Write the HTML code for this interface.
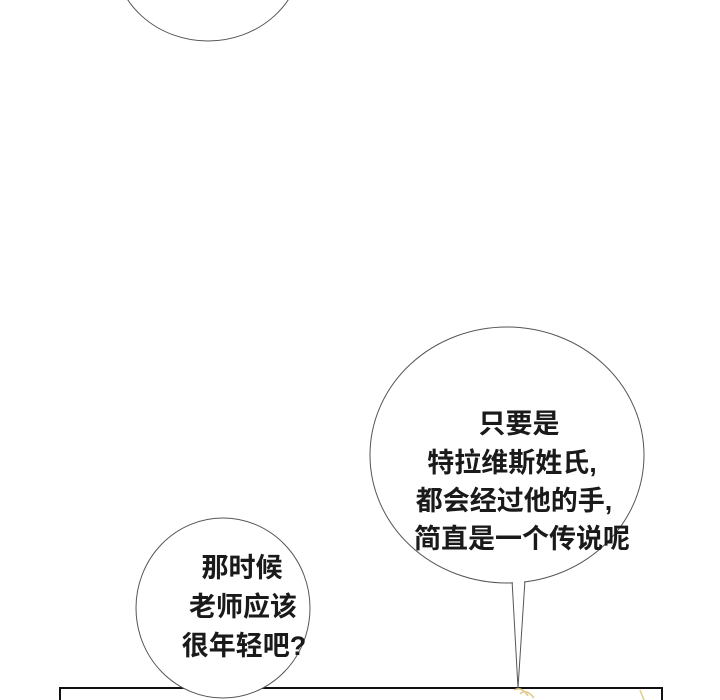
<!DOCTYPE html>
<html><head><meta charset="utf-8"><style>
html,body{margin:0;padding:0;background:#fff;width:720px;height:700px;overflow:hidden}
svg text{font-family:"Liberation Sans","Noto Sans CJK SC",sans-serif;font-size:27px;font-weight:700;fill:#1a1a1a}
</style></head><body>
<svg width="720" height="700" viewBox="0 0 720 700" xmlns="http://www.w3.org/2000/svg">
<rect width="720" height="700" fill="#fff"/>
<ellipse cx="208" cy="-45" rx="94" ry="86" fill="#fff" stroke="#555" stroke-width="1"/>
<rect x="60" y="688" width="602" height="20" fill="#fff" stroke="#111" stroke-width="2"/>
<path d="M514 690 q8 -4 14 6 M520 694 q6 -6 14 4 M640 690 l4 10" stroke="#e2c98a" stroke-width="1.5" fill="none"/>
<ellipse cx="223" cy="608" rx="87" ry="90" fill="#fff" stroke="#555" stroke-width="1"/>
<path d="M512 580 L518 688 L525 580" fill="#fff" stroke="#555" stroke-width="1"/>
<ellipse cx="507" cy="455" rx="137" ry="128" fill="#fff" stroke="#555" stroke-width="1"/>
<rect x="513" y="578" width="11" height="6" fill="#fff"/>
<g text-anchor="middle">
<text x="519" y="433">只要是</text>
<text x="512" y="472">特拉维斯姓氏,</text>
<text x="514" y="510">都会经过他的手,</text>
<text x="522" y="548">简直是一个传说呢</text>
<text x="242" y="577">那时候</text>
<text x="243" y="616">老师应该</text>
<text x="244" y="655">很年轻吧?</text>
</g>
</svg>
</body></html>
